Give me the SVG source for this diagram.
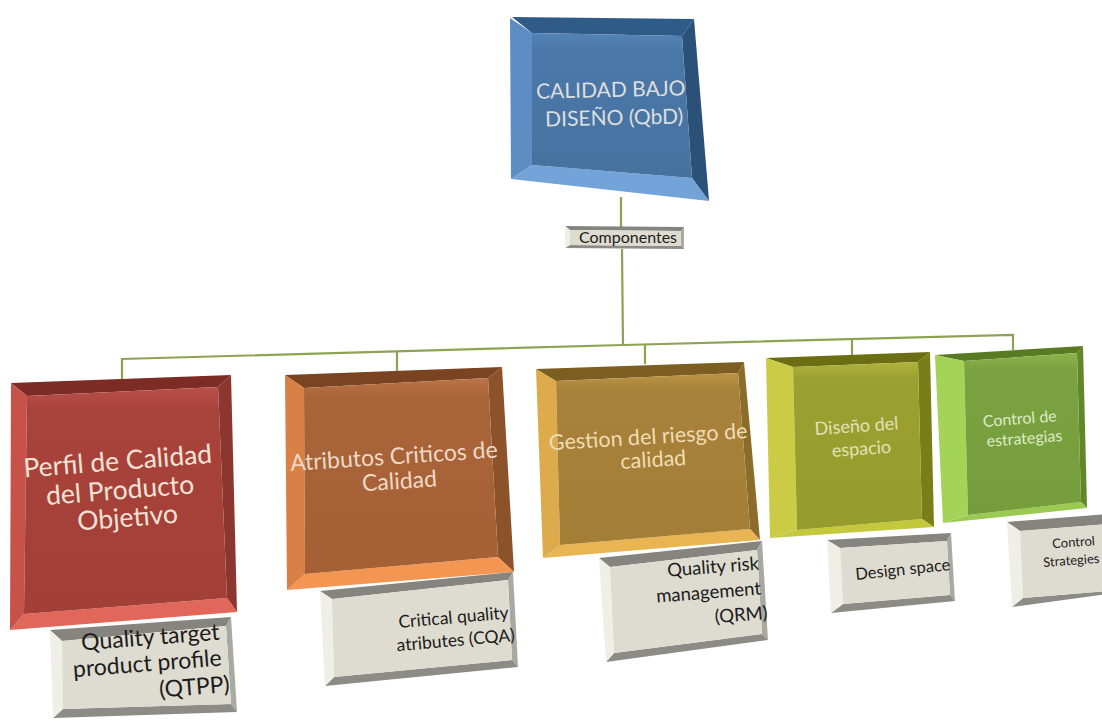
<svg xmlns="http://www.w3.org/2000/svg" width="1102" height="727" viewBox="0 0 1102 727">
  <style>
    .lbl { font-family: Lato, "Open Sans", "Liberation Sans", sans-serif; }
    .wire { fill: none; stroke: #8da353; stroke-width: 2.2; stroke-linejoin: miter; }
    .note-top { fill: #85847e; }
    .note-right { fill: #aaa9a1; }
    .note-bottom { fill: #8c8b85; }
    .note-left { fill: #efeee7; }
    .note-face { fill: #dedbd0; }
    .note-txt { fill: #1c1c1c; }
  </style>
  <defs>
    <linearGradient id="gBlue" x1="0" y1="0" x2="0" y2="1">
      <stop offset="0" stop-color="#5484b6"/><stop offset="0.12" stop-color="#4a78a9"/><stop offset="1" stop-color="#46729f"/>
    </linearGradient>
    <linearGradient id="gRed" x1="0" y1="0" x2="0" y2="1">
      <stop offset="0" stop-color="#b9504a"/><stop offset="0.1" stop-color="#a8433b"/><stop offset="1" stop-color="#a23f37"/>
    </linearGradient>
    <linearGradient id="gOrange" x1="0" y1="0" x2="0" y2="1">
      <stop offset="0" stop-color="#bc7446"/><stop offset="0.1" stop-color="#a9643a"/><stop offset="1" stop-color="#a56036"/>
    </linearGradient>
    <linearGradient id="gGold" x1="0" y1="0" x2="0" y2="1">
      <stop offset="0" stop-color="#bb9446"/><stop offset="0.1" stop-color="#a8823a"/><stop offset="1" stop-color="#a47e36"/>
    </linearGradient>
    <linearGradient id="gOlive" x1="0" y1="0" x2="0" y2="1">
      <stop offset="0" stop-color="#adb33a"/><stop offset="0.1" stop-color="#9ba130"/><stop offset="1" stop-color="#969c2c"/>
    </linearGradient>
    <linearGradient id="gGreen" x1="0" y1="0" x2="0" y2="1">
      <stop offset="0" stop-color="#8cb44a"/><stop offset="0.1" stop-color="#7ba240"/><stop offset="1" stop-color="#769d3c"/>
    </linearGradient>
  </defs>

  <!-- connectors -->
  <g id="connectors">
    <polyline class="wire" points="621,197 621,228"/>
    <polyline class="wire" points="622,249 623,345"/>
    <polyline class="wire" points="122,382 122,359 623,345 1013,335 1013,350"/>
    <line class="wire" x1="397" y1="351.3" x2="397" y2="371"/>
    <line class="wire" x1="645" y1="344.4" x2="645" y2="364"/>
    <line class="wire" x1="852" y1="339.1" x2="852" y2="356"/>
  </g>

  <!-- root -->
  <g id="qbd">
    <polygon fill="#2f5b88" points="512,17 694,19 682,36 532,33"/>
    <polygon fill="#2b5179" points="694,19 709,201 692,178 682,36"/>
    <polygon fill="#72a3d9" points="709,201 511,179 532,165 692,178"/>
    <polygon fill="#5d8dc2" points="511,179 510,18 532,33 532,165"/>
    <polygon fill="url(#gBlue)" points="532,33 682,36 692,178 532,165"/>
    <text class="lbl" fill="#dedede" font-size="21" text-anchor="middle" transform="rotate(-1.3 614 111)">
      <tspan x="614" y="97">CALIDAD BAJO</tspan>
      <tspan x="614" y="125">DISEÑO (QbD)</tspan>
    </text>
  </g>

  <g id="componentes">
    <polygon class="note-top" points="565,226 684,227 681,231 570,230"/>
    <polygon class="note-right" points="684,227 684,249 681,246 681,231"/>
    <polygon class="note-bottom" points="684,249 565,248 570,245 681,246"/>
    <polygon class="note-left" points="565,248 565,226 570,230 570,245"/>
    <polygon class="note-face" points="570,230 681,231 681,246 570,245"/>
    <text class="lbl note-txt" font-size="16" x="628" y="243" text-anchor="middle">Componentes</text>
  </g>

  <!-- component 1 -->
  <g id="qtpp">
    <polygon fill="#7d2b25" points="11,383 231,375 218,387 27,396"/>
    <polygon fill="#8c3630" points="231,375 237,612 227,598 218,387"/>
    <polygon fill="#e2675b" points="237,612 10,630 24,614 227,598"/>
    <polygon fill="#c6524a" points="10,630 11,383 27,396 24,614"/>
    <polygon fill="url(#gRed)" points="27,396 218,387 227,598 24,614"/>
    <text class="lbl" fill="#f4e2d6" font-size="26.5" text-anchor="middle" transform="rotate(-4.5 122 498)">
      <tspan x="124" y="470">Perfil de Calidad</tspan>
      <tspan x="124" y="499">del Producto</tspan>
      <tspan x="126" y="527">Objetivo</tspan>
    </text>
  </g>
  <g id="qtpp-note">
    <polygon class="note-top" points="50,630 231,617 226,626 62,641"/>
    <polygon class="note-right" points="231,617 237,712 231,704 226,626"/>
    <polygon class="note-bottom" points="237,712 53,718 63,709 231,704"/>
    <polygon class="note-left" points="53,718 50,630 62,641 63,709"/>
    <polygon class="note-face" points="62,641 226,626 231,704 63,709"/>
    <text class="lbl note-txt" font-size="23" text-anchor="end" transform="rotate(-4.5 228 665)">
      <tspan x="228" y="639">Quality target</tspan>
      <tspan x="228" y="665">product profile</tspan>
      <tspan x="228" y="692">(QTPP)</tspan>
    </text>
  </g>

  <!-- component 2 -->
  <g id="cqa">
    <polygon fill="#7a4422" points="285,375 502,367 488,378 304,388"/>
    <polygon fill="#8c522a" points="502,367 514,572 498,557 488,378"/>
    <polygon fill="#f29652" points="514,572 287,590 305,574 498,557"/>
    <polygon fill="#d88046" points="287,590 285,375 304,388 305,574"/>
    <polygon fill="url(#gOrange)" points="304,388 488,378 498,557 305,574"/>
    <text class="lbl" fill="#f0d9c4" font-size="23" text-anchor="middle" transform="rotate(-3.7 398 475)">
      <tspan x="398" y="464">Atributos Criticos de</tspan>
      <tspan x="399" y="489">Calidad</tspan>
    </text>
  </g>
  <g id="cqa-note">
    <polygon class="note-top" points="320,591 513,572 508,580 332,599"/>
    <polygon class="note-right" points="513,572 518,667 512,660 508,580"/>
    <polygon class="note-bottom" points="518,667 325,686 334,677 512,660"/>
    <polygon class="note-left" points="325,686 320,591 332,599 334,677"/>
    <polygon class="note-face" points="332,599 508,580 512,660 334,677"/>
    <text class="lbl note-txt" font-size="17.5" text-anchor="end" transform="rotate(-5 514 628)">
      <tspan x="514" y="618">Critical quality</tspan>
      <tspan x="514" y="641">atributes (CQA)</tspan>
    </text>
  </g>

  <!-- component 3 -->
  <g id="qrm">
    <polygon fill="#7c5d22" points="536,369 744,362 738,373 556,381"/>
    <polygon fill="#8c6c2a" points="744,362 760,540 750,529 738,373"/>
    <polygon fill="#e9b552" points="760,540 543,558 560,545 750,529"/>
    <polygon fill="#ddab4b" points="543,558 536,369 556,381 560,545"/>
    <polygon fill="url(#gGold)" points="556,381 738,373 750,529 560,545"/>
    <text class="lbl" fill="#f0dcb4" font-size="21.5" text-anchor="middle" transform="rotate(-3.5 652 455)">
      <tspan x="652" y="444">Gestion del riesgo de</tspan>
      <tspan x="653" y="467">calidad</tspan>
    </text>
  </g>
  <g id="qrm-note">
    <polygon class="note-top" points="599,558 762,541 757,550 610,567"/>
    <polygon class="note-right" points="762,541 768,640 762,634 757,550"/>
    <polygon class="note-bottom" points="768,640 606,662 614,653 762,634"/>
    <polygon class="note-left" points="606,662 599,558 610,567 614,653"/>
    <polygon class="note-face" points="610,567 757,550 762,634 614,653"/>
    <text class="lbl note-txt" font-size="18.5" text-anchor="end" transform="rotate(-4.5 766 593)">
      <tspan x="766" y="569">Quality risk</tspan>
      <tspan x="766" y="594">management</tspan>
      <tspan x="766" y="619">(QRM)</tspan>
    </text>
  </g>

  <!-- component 4 -->
  <g id="design-space">
    <polygon fill="#6b6e12" points="766,358 930,352 918,362 793,367"/>
    <polygon fill="#7a7e18" points="930,352 934,527 922,519 918,362"/>
    <polygon fill="#c4c93c" points="934,527 770,538 797,530 922,519"/>
    <polygon fill="#cbcb45" points="770,538 766,358 793,367 797,530"/>
    <polygon fill="url(#gOlive)" points="793,367 918,362 922,519 797,530"/>
    <text class="lbl" fill="#e2e2b8" font-size="18" text-anchor="middle" transform="rotate(-4 860 443)">
      <tspan x="860" y="432">Diseño del</tspan>
      <tspan x="861" y="455">espacio</tspan>
    </text>
  </g>
  <g id="design-space-note">
    <polygon class="note-top" points="827,540 951,533 947,541 840,548"/>
    <polygon class="note-right" points="951,533 955,601 950,595 947,541"/>
    <polygon class="note-bottom" points="955,601 831,613 843,604 950,595"/>
    <polygon class="note-left" points="831,613 827,540 840,548 843,604"/>
    <polygon class="note-face" points="840,548 947,541 950,595 843,604"/>
    <text class="lbl note-txt" font-size="16.5" x="856" y="580" transform="rotate(-6 856 580)">Design space</text>
  </g>

  <!-- component 5 -->
  <g id="control">
    <polygon fill="#587a22" points="935,355 1083,346 1077,353 964,361"/>
    <polygon fill="#62862a" points="1083,346 1087,508 1081,502 1077,353"/>
    <polygon fill="#9aca52" points="1087,508 943,523 968,515 1081,502"/>
    <polygon fill="#a4d457" points="943,523 935,355 964,361 968,515"/>
    <polygon fill="url(#gGreen)" points="964,361 1077,353 1081,502 968,515"/>
    <text class="lbl" fill="#dcebc6" font-size="16" text-anchor="middle" transform="rotate(-4.5 1023 434)">
      <tspan x="1023" y="424">Control de</tspan>
      <tspan x="1024" y="444">estrategias</tspan>
    </text>
  </g>
  <g id="control-note">
    <polygon class="note-top" points="1007,522 1120,513 1120,523 1020,531"/>
    <polygon class="note-bottom" points="1122,592 1012,607 1023,598 1120,590"/>
    <polygon class="note-left" points="1012,607 1007,522 1020,531 1023,598"/>
    <polygon class="note-face" points="1020,531 1120,523 1120,590 1023,598"/>
    <text class="lbl note-txt" font-size="13" text-anchor="end" transform="rotate(-4 1099 553)">
      <tspan x="1099" y="545">Control</tspan>
      <tspan x="1099" y="563">Strategies</tspan>
    </text>
  </g>
</svg>
